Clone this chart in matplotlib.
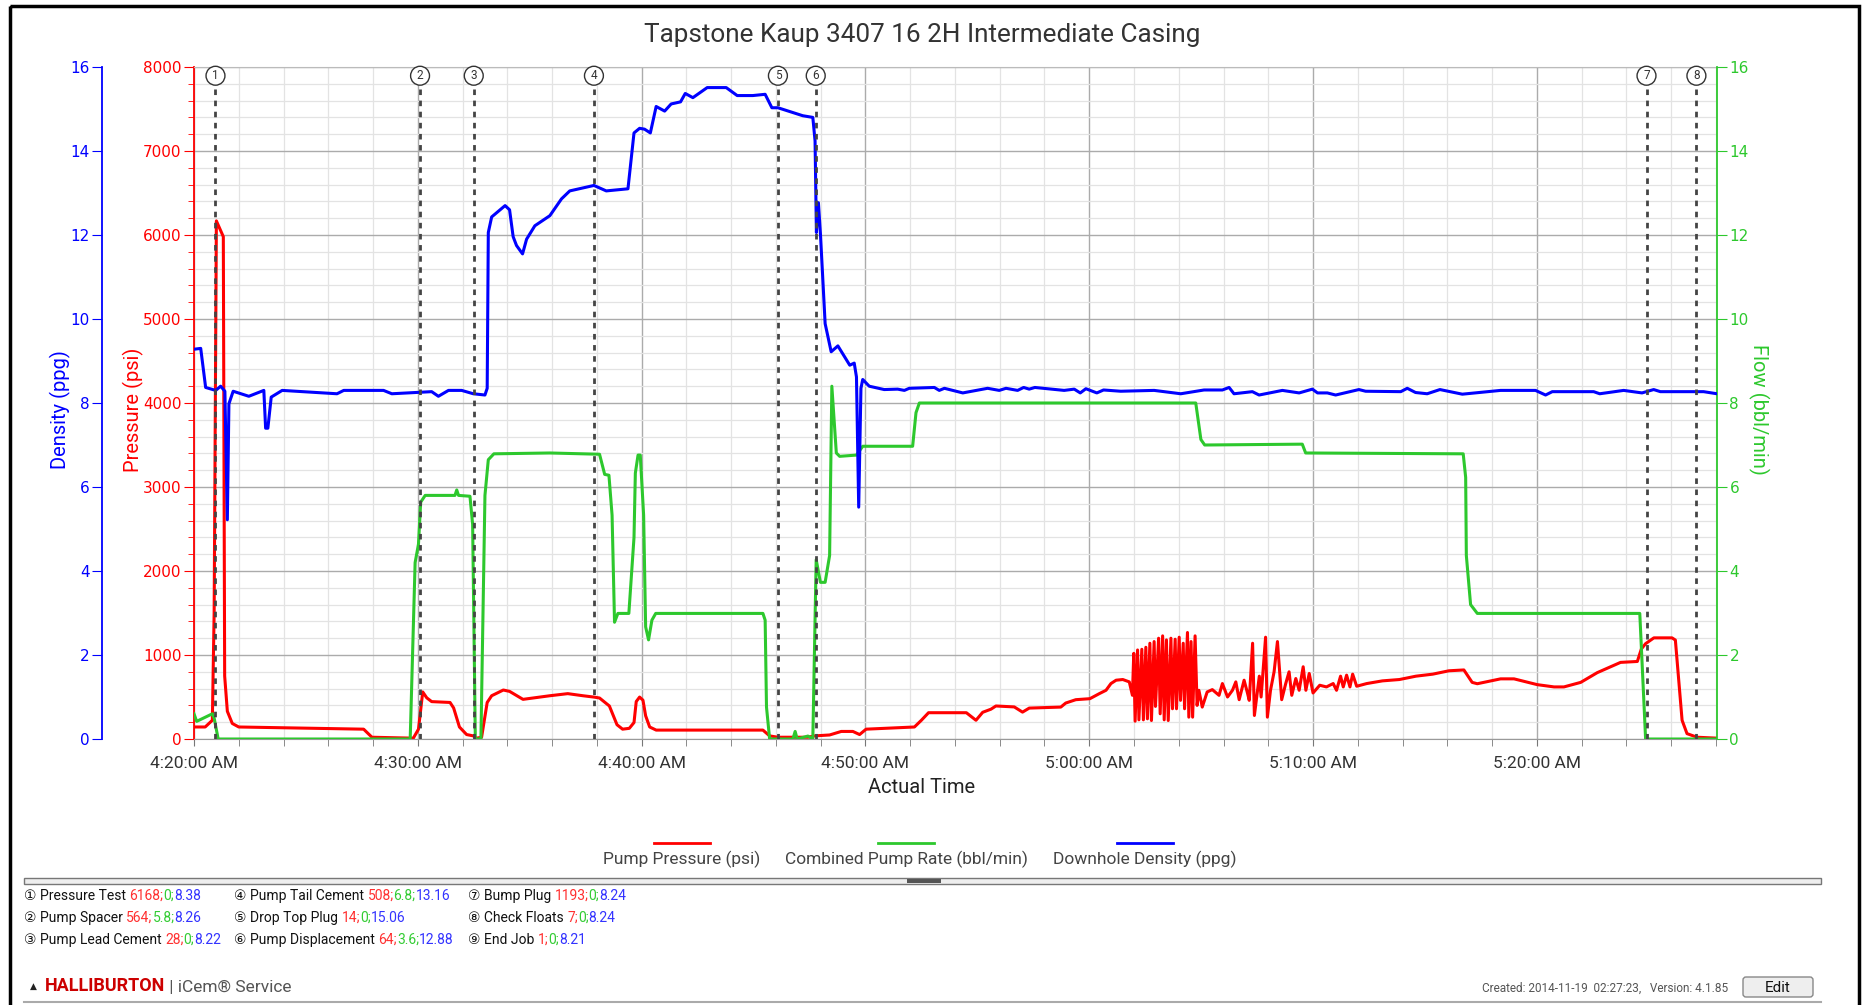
import matplotlib
matplotlib.use("Agg")
import matplotlib.pyplot as plt
import matplotlib.transforms as mtransforms
from matplotlib.ticker import MultipleLocator, FixedLocator
from matplotlib.patches import Rectangle, FancyBboxPatch

ROJO = "#ff0000"
VERDE = "#2dc82d"
AZUL = "#0000ff"
GRIS = "#333333"

# minutos despues de las 4:20:00 AM
t_presion = [0, 0.5, 0.82, 0.9, 1.0, 1.31, 1.37, 1.49, 1.71, 2.0, 7.58, 7.95, 9.8, 10.03, 10.22, 10.4,
             10.62, 11.44, 11.6, 11.86, 12.18, 12.48, 12.63, 12.85, 13.1, 13.3, 13.82, 14.1, 14.7, 15.9,
             16.7, 17.38, 17.87, 18.12, 18.56, 18.9, 19.15, 19.45, 19.66, 19.76, 19.91, 20.06, 20.18,
             20.36, 20.65, 25.42, 25.72, 26.09, 27.43, 27.73, 28.4, 28.92, 29.44, 29.74, 30.03, 32.19,
             32.5, 32.82, 34.51, 34.94, 35.24, 35.61, 35.83, 36.65, 37.02, 37.32, 38.73, 38.95, 39.4,
             40.03, 40.45, 40.75, 40.97, 41.2, 41.5, 41.79, 41.93,
             41.99, 42.05, 42.16, 42.22, 42.35, 42.42, 42.53, 42.6, 42.71, 42.78, 42.9, 42.96, 43.1,
             43.17, 43.28, 43.35, 43.45, 43.53, 43.65, 43.72, 43.84, 43.9, 44.02, 44.08, 44.2, 44.26,
             44.39, 44.45, 44.55, 44.62, 44.73, 44.82,
             44.9, 45.05, 45.27, 45.5, 45.8, 45.95, 46.18, 46.4, 46.55, 46.7, 46.92, 47.07, 47.15,
             47.3, 47.38, 47.6, 47.68, 47.88, 47.96, 48.1, 48.26, 48.41, 48.6, 48.78, 48.93, 49.05,
             49.23, 49.38, 49.56, 49.68, 49.83, 50.0, 50.3, 50.6, 50.9, 51.05, 51.23, 51.35, 51.5,
             51.65, 51.77, 51.95, 52.4, 53.1, 53.86, 54.6, 55.35, 56.07, 56.74, 57.11, 57.34, 58.38,
             58.98, 60.02, 60.77, 61.21, 61.96, 62.7, 63.74, 64.49, 64.67, 64.86, 65.23, 66.04, 66.19,
             66.49, 66.71, 67.16, 68.05]
presion = [143, 143, 223, 1500, 6168, 5980, 750, 330, 185, 143, 117, 21, 10, 117, 560, 490,
           445, 435, 370, 143, 53, 37, 10, 21, 435, 515, 583, 567, 472, 515,
           540, 515, 499, 488, 393, 170, 117, 127, 196, 446, 499, 462, 276,
           143, 106, 106, 37, 21, 21, 37, 48, 90, 90, 53, 117, 143,
           223, 313, 313, 223, 318, 355, 393, 382, 320, 368, 380, 428, 468,
           480, 540, 580, 660, 700, 708, 680, 520,
           1020, 212, 1060, 228, 1068, 228, 1092, 240, 1140, 220, 1160, 388, 1200,
           300, 1228, 228, 1180, 220, 1200, 360, 1188, 360, 1212, 460, 1140, 360,
           1268, 260, 1160, 260, 1228, 400,
           580, 380, 560, 588, 520, 660, 500, 580, 680, 468, 700, 548, 460,
           1140, 280, 748, 500, 1212, 260, 580, 800, 1160, 468, 660, 800, 520,
           720, 580, 860, 580, 780, 548, 640, 620, 660, 580, 748, 620, 760,
           620, 772, 628, 660, 692, 708, 748, 772, 812, 822, 674, 658, 716,
           716, 647, 620, 620, 674, 790, 912, 923, 1072, 1135, 1204, 1204, 1178,
           223, 64, 21, 10]

t_densidad = [0, 0.3, 0.52, 0.97, 1.19, 1.38, 1.49, 1.56, 1.75, 2.45, 3.12, 3.2, 3.3, 3.45, 3.94,
              6.39, 6.69, 8.47, 8.84, 10.62, 10.92, 11.37, 11.96, 12.48, 13.0, 13.1, 13.15, 13.3,
              13.9, 14.1, 14.26, 14.41, 14.68, 14.86, 15.23, 15.9, 16.42, 16.79, 17.38, 17.87, 18.42,
              19.39, 19.66, 19.91, 20.13, 20.39, 20.65, 21.03, 21.32, 21.74, 21.95, 22.29, 22.93,
              23.78, 24.27, 24.97, 25.52, 25.82, 26.09, 27.2, 27.65, 27.75, 27.81, 27.9, 27.99, 28.2,
              28.47, 28.77, 29.3, 29.5, 29.6, 29.7, 29.8, 29.88, 30.17, 30.84, 31.44, 31.74, 31.96,
              33.08, 33.3, 33.53, 34.35, 35.46, 35.98, 36.28, 36.8, 37.07, 37.32, 37.57, 38.88, 39.33,
              39.6, 39.85, 40.34, 40.64, 41.41, 42.9, 44.09, 45.13, 45.95, 46.25, 46.47, 47.29, 47.59,
              48.63, 49.38, 49.97, 50.2, 50.64, 51.01, 52.05, 52.35, 53.92, 54.21, 54.58, 55.1, 55.67,
              56.67, 58.38, 59.13, 59.94, 60.39, 60.69, 62.54, 62.81, 63.88, 64.7, 65.22, 65.52,
              67.45, 68.05]
densidad = [9.28, 9.3, 8.37, 8.3, 8.4, 8.28, 5.22, 7.98, 8.28, 8.16, 8.3, 7.4, 7.4, 8.14, 8.3,
            8.22, 8.3, 8.3, 8.22, 8.27, 8.16, 8.3, 8.3, 8.22, 8.19, 8.35, 12.06, 12.43,
            12.7, 12.6, 11.96, 11.75, 11.55, 11.9, 12.22, 12.46, 12.86, 13.05, 13.12, 13.18, 13.05,
            13.1, 14.43, 14.54, 14.52, 14.43, 15.06, 14.95, 15.12, 15.17, 15.37, 15.27, 15.51,
            15.51, 15.32, 15.32, 15.35, 15.03, 15.03, 14.84, 14.8, 14.24, 12.06, 12.77, 12.03, 9.89,
            9.22, 9.36, 8.9, 8.95, 8.62, 5.52, 8.35, 8.56, 8.4, 8.32, 8.33, 8.3, 8.35,
            8.37, 8.3, 8.35, 8.24, 8.35, 8.3, 8.35, 8.3, 8.37, 8.33, 8.37, 8.3, 8.33,
            8.24, 8.34, 8.24, 8.31, 8.28, 8.3, 8.22, 8.31, 8.31, 8.37, 8.22, 8.27, 8.19,
            8.3, 8.24, 8.33, 8.24, 8.24, 8.19, 8.32, 8.28, 8.27, 8.35, 8.25, 8.22, 8.32,
            8.21, 8.3, 8.3, 8.3, 8.19, 8.27, 8.27, 8.22, 8.3, 8.24, 8.32, 8.27,
            8.27, 8.22]

t_caudal = [0, 0.12, 0.82, 0.9, 1.08, 9.66, 9.88, 10.03, 10.13, 10.33, 11.66, 11.74, 11.82, 12.33,
            12.45, 12.57, 12.82, 13.0, 13.15, 13.4, 15.9, 18.12, 18.35, 18.54, 18.68, 18.79, 18.94,
            19.43, 19.66, 19.72, 19.84, 19.94, 20.09, 20.18, 20.31, 20.46, 20.63, 25.42, 25.52,
            25.58, 25.72, 26.76, 26.86, 26.95, 27.43, 27.65, 27.8, 27.99, 28.2, 28.4, 28.5, 28.7,
            28.85, 29.6, 29.88, 32.11, 32.26, 32.41, 44.76, 44.99, 45.16, 49.52, 49.67, 56.71,
            56.82, 56.85, 57.04, 57.34, 64.6, 64.86, 68.05]
caudal = [0.6, 0.42, 0.6, 0.5, 0, 0, 4.2, 4.64, 5.64, 5.8, 5.8, 5.93, 5.8, 5.78,
          5.11, 0, 0, 5.8, 6.65, 6.79, 6.81, 6.78, 6.3, 6.28, 5.33, 2.78, 2.99,
          2.99, 4.8, 6.33, 6.76, 6.76, 5.33, 2.67, 2.36, 2.83, 2.99, 2.99, 2.83,
          0.76, 0, 0, 0.18, 0, 0.07, 0, 4.27, 3.73, 3.73, 4.37, 8.4, 6.81,
          6.73, 6.76, 6.97, 6.97, 7.77, 8.0, 8.0, 7.13, 7.0, 7.02, 6.81, 6.79,
          6.23, 4.37, 3.2, 2.99, 2.99, 0, 0]

t_eventos = [0.96, 10.1, 12.5, 17.87, 26.09, 27.78, 64.9, 67.13]
num_eventos = ["1", "2", "3", "4", "5", "6", "7", "8"]

ticks_x = [0, 10, 20, 30, 40, 50, 60]
etiquetas_x = ["4:20:00 AM", "4:30:00 AM", "4:40:00 AM", "4:50:00 AM",
               "5:00:00 AM", "5:10:00 AM", "5:20:00 AM"]

eventos = [
    ("①", "Pressure Test", "6168;", "0;", "8.38"),
    ("②", "Pump Spacer", "564;", "5.8;", "8.26"),
    ("③", "Pump Lead Cement", "28;", "0;", "8.22"),
    ("④", "Pump Tail Cement", "508;", "6.8;", "13.16"),
    ("⑤", "Drop Top Plug", "14;", "0;", "15.06"),
    ("⑥", "Pump Displacement", "64;", "3.6;", "12.88"),
    ("⑦", "Bump Plug", "1193;", "0;", "8.24"),
    ("⑧", "Check Floats", "7;", "0;", "8.24"),
    ("⑨", "End Job", "1;", "0;", "8.21"),
]

W, H = 1866, 1005
fig = plt.figure(figsize=(W / 100, H / 100), dpi=100)
fuente = ["Roboto", "DejaVu Sans"]

# fondo en pixeles para el pie
ax_bg = fig.add_axes([0, 0, 1, 1])
ax_bg.set_xlim(0, W)
ax_bg.set_ylim(H, 0)
ax_bg.axis("off")

ax = fig.add_axes([194 / W, 1 - 739 / H, (1717 - 194) / W, (739 - 67) / H])
ax_f = ax.twinx()
ax_d = ax.twinx()

ax.plot(t_presion, presion, color=ROJO, lw=2.2)
ax_f.plot(t_caudal, caudal, color=VERDE, lw=2.2)
ax_d.plot(t_densidad, densidad, color=AZUL, lw=2.2)

ax.set_xlim(0, 68.05)
ax.set_ylim(0, 8000)
ax_f.set_ylim(0, 16)
ax_d.set_ylim(0, 16)

# grilla
ax.xaxis.set_major_locator(FixedLocator(ticks_x))
ax.set_xticklabels(etiquetas_x, fontsize=12.5, color=GRIS, family=fuente)
ax.xaxis.set_minor_locator(MultipleLocator(2))
ax.yaxis.set_major_locator(MultipleLocator(1000))
ax.yaxis.set_minor_locator(MultipleLocator(200))
ax.grid(which="major", color="#ababab", lw=1)
ax.grid(which="minor", color="#e3e3e3", lw=0.9)
ax.set_axisbelow(True)

ax.tick_params(axis="x", which="both", colors="#777777", labelcolor=GRIS, length=5, pad=7)
ax.tick_params(axis="y", which="major", colors=ROJO, length=7, labelsize=11, pad=2)
ax.tick_params(axis="y", which="minor", colors=ROJO, length=4)
ax.spines["top"].set_color("#bbbbbb")
ax.spines["left"].set_color(ROJO)
ax.spines["left"].set_linewidth(1.3)
ax.spines["bottom"].set_color("#999999")
ax.spines["right"].set_visible(False)

ax_f.yaxis.set_major_locator(MultipleLocator(2))
ax_f.tick_params(axis="y", colors=VERDE, length=7, labelsize=11, pad=2)
ax_f.spines["right"].set_color(VERDE)
ax_f.spines["right"].set_linewidth(1.3)
for s in ["left", "top", "bottom"]:
    ax_f.spines[s].set_visible(False)

ax_d.yaxis.set_major_locator(MultipleLocator(2))
ax_d.yaxis.tick_left()
ax_d.spines["left"].set_position(("axes", -0.0604))
ax_d.spines["left"].set_visible(True)
ax_d.spines["left"].set_color(AZUL)
ax_d.spines["left"].set_linewidth(1.3)
for s in ["right", "top", "bottom"]:
    ax_d.spines[s].set_visible(False)
ax_d.tick_params(axis="y", colors=AZUL, length=7, labelsize=11, pad=2)

ax.text(-0.088, 0.49, "Density (ppg)", transform=ax.transAxes, rotation=90, ha="center",
        va="center", color=AZUL, fontsize=14.5, family=fuente)
ax.text(-0.040, 0.49, "Pressure (psi)", transform=ax.transAxes, rotation=90, ha="center",
        va="center", color=ROJO, fontsize=14.5, family=fuente)
ax.text(1.0276, 0.49, "Flow (bbl/min)", transform=ax.transAxes, rotation=-90, ha="center",
        va="center", color=VERDE, fontsize=14.5, family=fuente)

# eventos
trans = mtransforms.blended_transform_factory(ax_d.transData, ax_d.transAxes)
for t, n in zip(t_eventos, num_eventos):
    ax_d.plot([t, t], [0, 0.972], transform=trans, color="#444444", lw=2, ls=(0, (2, 2)))
    ax_d.text(t, 0.987, n, transform=trans, ha="center", va="center", fontsize=8.5,
              color=GRIS, family=fuente,
              bbox=dict(boxstyle="circle,pad=0.25", fc="white", ec="#333333", lw=1))

fig.text(922 / W, 1 - 35 / H, "Tapstone Kaup 3407 16 2H Intermediate Casing", ha="center",
         va="center", fontsize=18.8, color=GRIS, family=fuente)
ax_bg.text(922, 787, "Actual Time", ha="center", va="center", fontsize=14.5, color="#222222",
           family=fuente)

# leyenda
for cx, lab, col in [(682, "Pump Pressure (psi)", ROJO),
                     (906, "Combined Pump Rate (bbl/min)", VERDE),
                     (1145, "Downhole Density (ppg)", AZUL)]:
    ax_bg.plot([cx - 28, cx + 28], [843, 843], color=col, lw=2)
    ax_bg.text(cx, 859, lab, ha="center", va="center", fontsize=12.5, color="#444444",
               family=fuente)

# barra separadora
ax_bg.add_patch(Rectangle((24, 878), 1797, 6, fc="#eeeeee", ec="#777777", lw=1))
ax_bg.add_patch(Rectangle((907, 879), 34, 4, fc="#555555", ec="none"))

# lista de eventos
cols_x = [24, 234, 468]
filas_y = [896, 918, 940]
for i, (num, nombre, p, q, d) in enumerate(eventos):
    x = cols_x[i // 3]
    y = filas_y[i % 3]
    txt = ax_bg.text(x, y, num + " " + nombre + " ", ha="left", va="center", fontsize=10,
                     color="#111111", family=fuente)
    for val, col in zip([p, q, d], ["#ff3030", "#33cc33", "#3333ff"]):
        txt = ax_bg.annotate(val, xy=(1, 0), xycoords=txt, ha="left", va="bottom",
                             fontsize=10, color=col, family=fuente)

# pie
ax_bg.text(30, 986, "▲", ha="left", va="center", fontsize=6.5, color="#222222",
           family=["DejaVu Sans"])
logo = ax_bg.text(45, 986, "HALLIBURTON", ha="left", va="center", fontsize=13,
                  color="#cc0000", fontweight="bold", family=fuente)
ax_bg.annotate(" | iCem® Service", xy=(1, 0), xycoords=logo, ha="left", va="bottom",
               fontsize=12.5, color="#555555", family=fuente)
ax_bg.text(1728, 988, "Created: 2014-11-19  02:27:23,   Version: 4.1.85", ha="right",
           va="center", fontsize=8.5, color="#555555", family=fuente)
ax_bg.add_patch(FancyBboxPatch((1743, 977), 70, 20, boxstyle="round,pad=0,rounding_size=3",
                               fc="#eeeeee", ec="#888888", lw=1))
ax_bg.text(1778, 988, "Edit", ha="center", va="center", fontsize=11, color="#111111",
           family=fuente)
ax_bg.plot([24, 1821], [1002, 1002], color="#aaaaaa", lw=1.5)

# marco negro
ax_bg.add_patch(Rectangle((10, 6), 1849, 1010, fc="none", ec="black", lw=2.5))

fig.savefig("out.png", dpi=100)
